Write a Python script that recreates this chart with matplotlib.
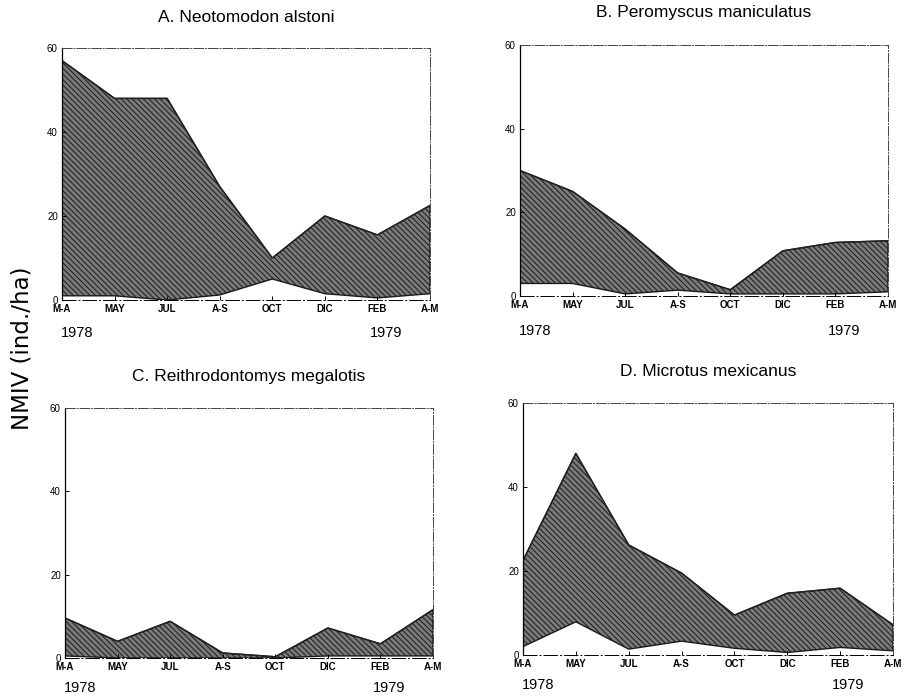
import matplotlib
matplotlib.use("Agg")
import matplotlib.pyplot as plt

plt.rcParams['font.family'] = ['Liberation Sans', 'DejaVu Sans']
plt.rcParams['hatch.linewidth'] = 0.7

months = ["M-A", "MAY", "JUL", "A-S", "OCT", "DIC", "FEB", "A-M"]
x = list(range(len(months)))

titles = ["A. Neotomodon alstoni", "B. Peromyscus maniculatus",
          "C. Reithrodontomys megalotis", "D. Microtus mexicanus"]

upper_a = [57, 48, 48, 27, 10, 20, 15.5, 22.5]
lower_a = [1, 1, 0, 1.2, 5, 1.5, 0.5, 1.5]
upper_b = [30, 25, 16, 5.5, 1.5, 10.8, 12.8, 13.2]
lower_b = [3, 3, 0.5, 1.4, 0.5, 0.5, 0.5, 1]
upper_c = [9.6, 4, 8.8, 1.2, 0.3, 7.2, 3.4, 11.6]
lower_c = [0.5, 0, 0, 0, 0, 0.5, 0.5, 0.5]
upper_d = [22.5, 48, 26.2, 19.5, 9.5, 14.7, 15.9, 7.2]
lower_d = [2, 7.9, 1.4, 3.3, 1.6, 0.6, 1.8, 1]

uppers = [upper_a, upper_b, upper_c, upper_d]
lowers = [lower_a, lower_b, lower_c, lower_d]

# axes boxes in pixels: left, top(60), right, bottom(0)
boxes = [(62, 48, 430, 300), (520, 45, 888, 296),
         (65, 408, 433, 658), (523, 403, 893, 655)]
title_y = [18, 13, 377, 372]
year_y = [333, 331, 688, 685]

W, H = 907, 696
fig = plt.figure(figsize=(W / 100, H / 100), dpi=100)

for i in range(4):
    l, t, r, b = boxes[i]
    ax = fig.add_axes([l / W, 1 - b / H, (r - l) / W, (b - t) / H])
    ax.fill_between(x, lowers[i], uppers[i], facecolor="#7a7a7a",
                    edgecolor="#1a1a1a", hatch="\\\\\\\\\\\\", linewidth=1.0)
    ax.plot(x, uppers[i], color="#222222", lw=1.0)
    ax.set_xlim(0, 7)
    ax.set_ylim(0, 60)
    ax.set_xticks(x)
    ax.set_xticklabels(months, fontsize=7, fontweight="bold")
    ax.set_yticks([0, 20, 40, 60])
    ax.set_yticklabels(["0", "20", "40", "60"], fontsize=7)
    ax.tick_params(direction="in", length=3, width=0.7, pad=3)
    for s in ["top", "right"]:
        ax.spines[s].set_linestyle((0, (10, 2, 1, 2)))
        ax.spines[s].set_linewidth(0.7)
        ax.spines[s].set_color("#444444")
    ax.spines["left"].set_linewidth(0.9)
    ax.spines["bottom"].set_linewidth(0.7)
    ax.spines["bottom"].set_linestyle((0, (14, 3, 1, 3)))
    fig.text((l + 0.04 * (r - l)) / W, 1 - year_y[i] / H, "1978",
             fontsize=10.5, ha="center", va="center")
    fig.text((l + 0.88 * (r - l)) / W, 1 - year_y[i] / H, "1979",
             fontsize=10.5, ha="center", va="center")
    fig.text((l + r) / 2 / W, 1 - title_y[i] / H, titles[i], fontsize=12.5,
             ha="center", va="center")

fig.text(22 / W, 1 - 348 / H, "NMIV (ind./ha)", rotation=90, fontsize=16.5,
         family="DejaVu Sans", ha="center", va="center")

fig.savefig("out.png", dpi=100)
